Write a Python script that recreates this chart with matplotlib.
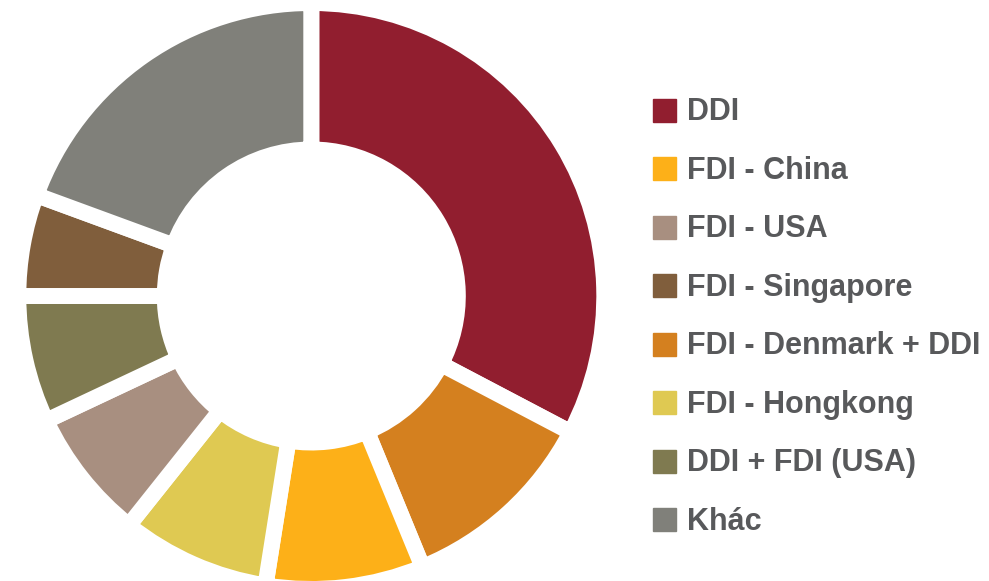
import numpy as np
import matplotlib.pyplot as plt
from matplotlib.patches import Rectangle

# legend order
labels = ["DDI", "FDI - China", "FDI - USA", "FDI - Singapore",
          "FDI - Denmark + DDI", "FDI - Hongkong", "DDI + FDI (USA)", "Khác"]
shares = [32.7, 8.7, 7.3, 5.6, 11.1, 8.2, 7.0, 19.4]
colors = ["#911e2f", "#fdb018", "#a88f80", "#805e3c",
          "#d4801f", "#dfc952", "#7f7a50", "#80807a"]
# order of the slices clockwise from the top
pie_order = [0, 4, 1, 5, 2, 6, 3, 7]

W, H = 989, 581
fig = plt.figure(figsize=(W / 100, H / 100), dpi=100)
ax = fig.add_axes([0, 0, 1, 1])
ax.pie([shares[i] for i in pie_order],
       colors=[colors[i] for i in pie_order],
       startangle=90, counterclock=False, radius=1,
       wedgeprops=dict(width=0.5, edgecolor="white", linewidth=11.5,
                       joinstyle="miter"))
ax.set_aspect("auto")
# donut centre at (311.3, 296) px, radius 293 px (stroke eats 8 px)
cx, cy, r = 311.3, 296, 293
ax.set_xlim(-cx / r, (W - cx) / r)
ax.set_ylim(-(H - cy) / r, cy / r)
ax.axis("off")

# legend on the right
y0, dy, sq = 110, 58.5, 23
for i, (lab, col) in enumerate(zip(labels, colors)):
    yc = y0 + i * dy
    fig.patches.append(Rectangle((653 / W, 1 - (yc + sq / 2) / H), sq / W, sq / H,
                                 transform=fig.transFigure, color=col))
    fig.text(687 / W, 1 - (yc + 10.4) / H, lab, fontsize=22, fontweight="bold",
             color="#58595b", va="baseline", ha="left", family="Liberation Sans")

fig.savefig("out.png", dpi=100)
